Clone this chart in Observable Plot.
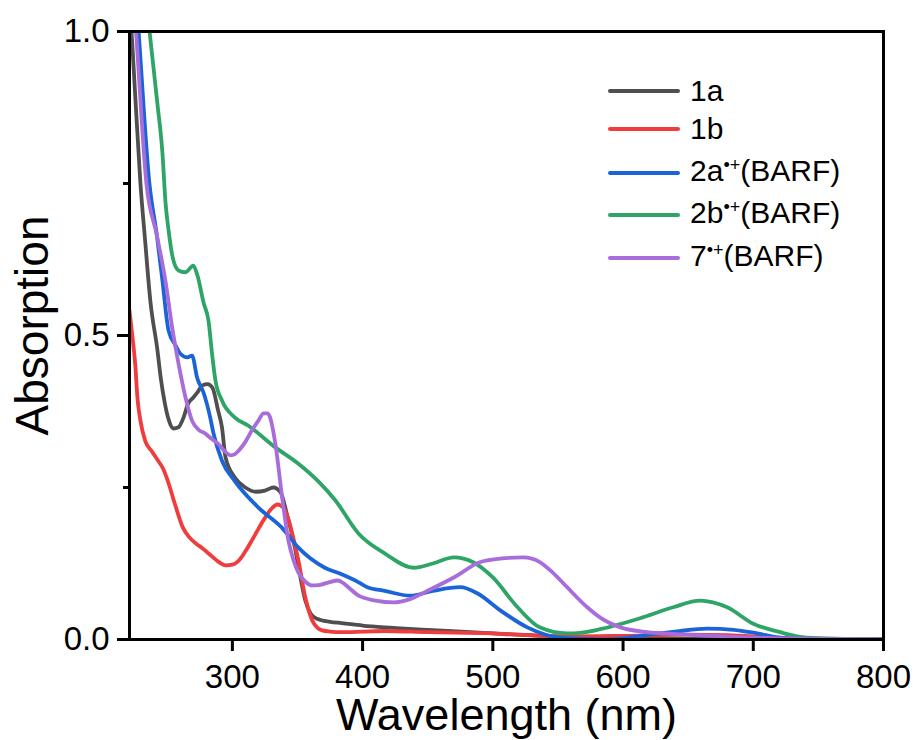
<!DOCTYPE html>
<html>
<head>
<meta charset="utf-8">
<script src="https://cdn.jsdelivr.net/npm/d3@7"></script>
<script src="https://cdn.jsdelivr.net/npm/@observablehq/plot@0.6"></script>
<style>
  body { margin: 0; background: #fff; }
  #wrap { position: relative; width: 914px; height: 740px; font-family: "Liberation Sans", Arial, sans-serif; }
  .row { position: absolute; display: flex; align-items: center; height: 30px; font-size: 30px; line-height: 30px; color: #000; white-space: nowrap; }
  .swatch { width: 72px; height: 4px; border-radius: 2px; margin-right: 10px; }
  .sup { font-size: 18px; position: relative; top: -10px; }
</style>
</head>
<body>
<div id="wrap"></div>
<script>
// ---- data ----
const seriesNames = ["1a", "1b", "2a", "2b", "7"];
const seriesColors = ["#4f4f4f", "#f03c3c", "#1a64d8", "#2ea566", "#a86ddb"];

const wl1a = [221, 222.5, 225.6, 229.4, 233, 237, 242.5, 245, 248, 251, 254.8, 258.6, 262.5, 266, 270, 273, 277, 281, 284.7, 289, 292, 294.7, 302, 310, 318, 325, 331.5, 337, 342, 348, 352, 356, 360, 365, 375, 384, 400, 417, 450, 500, 550, 600, 650, 700, 800];
const abs1a = [1.04, 1.0, 0.887, 0.75, 0.656, 0.557, 0.475, 0.43, 0.39, 0.362, 0.347, 0.349, 0.365, 0.388, 0.398, 0.406, 0.418, 0.42, 0.414, 0.377, 0.349, 0.30, 0.266, 0.25, 0.243, 0.245, 0.25, 0.242, 0.205, 0.151, 0.105, 0.064, 0.043, 0.034, 0.029, 0.027, 0.023, 0.02, 0.016, 0.01, 0.005, 0.003, 0.001, 0.0, 0.0];

const wl1b = [221, 223, 225.6, 227, 229.4, 233, 238, 243, 247, 251, 256, 262, 267, 272, 277, 282, 288, 295, 300, 305, 310, 315, 320, 325, 330, 334.6, 339, 343, 346, 350.7, 356, 359, 361.4, 365, 369, 375, 384, 417, 450, 500, 529, 560, 600, 650, 680, 710, 740, 800];
const abs1b = [0.541, 0.503, 0.447, 0.40, 0.36, 0.327, 0.31, 0.294, 0.28, 0.257, 0.222, 0.184, 0.168, 0.158, 0.15, 0.141, 0.13, 0.122, 0.123, 0.13, 0.145, 0.163, 0.182, 0.20, 0.215, 0.222, 0.217, 0.198, 0.174, 0.13, 0.069, 0.045, 0.031, 0.02, 0.015, 0.013, 0.012, 0.014, 0.012, 0.01, 0.007, 0.005, 0.006, 0.008, 0.007, 0.004, 0.001, 0.0];

const wl2a = [225, 228, 236.3, 242, 246.3, 251, 256.3, 260, 265.5, 269, 273, 278, 283, 285.5, 292, 302, 320, 338, 350.7, 371, 383, 397, 403.6, 417, 436.6, 454, 475, 488, 505.7, 526.5, 552, 582, 600, 613, 640, 664.6, 685, 703, 720.6, 740, 800];
const abs2a = [1.09, 1.0, 0.75, 0.665, 0.59, 0.508, 0.484, 0.47, 0.464, 0.467, 0.43, 0.405, 0.365, 0.339, 0.294, 0.26, 0.217, 0.184, 0.151, 0.118, 0.108, 0.094, 0.086, 0.08, 0.072, 0.08, 0.086, 0.076, 0.048, 0.02, 0.003, 0.0, 0.002, 0.006, 0.013, 0.018, 0.016, 0.01, 0.003, 0.001, 0.0];

const wl2b = [234, 236.4, 242.5, 246.3, 248.6, 251, 254, 258.6, 264, 270, 273, 278, 281.6, 284.7, 287, 292, 302, 312, 333, 350.7, 366, 379, 397, 417.5, 439, 454, 470, 485, 500, 519, 536, 557, 567, 582.5, 613, 638.5, 659, 680, 700, 720.6, 741, 770, 800];
const abs2b = [1.05, 1.0, 0.88, 0.80, 0.72, 0.673, 0.63, 0.607, 0.604, 0.615, 0.60, 0.553, 0.525, 0.464, 0.426, 0.393, 0.365, 0.352, 0.316, 0.289, 0.26, 0.229, 0.174, 0.141, 0.118, 0.125, 0.135, 0.127, 0.102, 0.053, 0.02, 0.01, 0.011, 0.017, 0.035, 0.053, 0.064, 0.053, 0.026, 0.012, 0.003, 0.001, 0.0];

const wl7 = [224, 226, 234, 242, 248.6, 254, 258.6, 264, 269, 274, 279, 284, 289, 294, 298.5, 302, 305, 310, 315, 320, 324, 327, 329, 333, 338.5, 343, 347, 350.7, 356, 361, 367.6, 374, 381, 385, 389, 397, 410, 423.6, 436, 449.7, 470, 490, 505.7, 523, 530, 536.4, 546, 557, 572.5, 582.5, 598, 618.5, 640, 659, 690, 720, 750, 800];
const abs7 = [1.06, 1.0, 0.75, 0.665, 0.59, 0.51, 0.454, 0.398, 0.36, 0.345, 0.339, 0.33, 0.322, 0.31, 0.303, 0.305, 0.311, 0.325, 0.344, 0.36, 0.372, 0.372, 0.365, 0.322, 0.229, 0.163, 0.13, 0.11, 0.095, 0.089, 0.09, 0.094, 0.097, 0.093, 0.086, 0.072, 0.064, 0.061, 0.066, 0.08, 0.102, 0.127, 0.133, 0.135, 0.133, 0.127, 0.11, 0.086, 0.053, 0.036, 0.02, 0.012, 0.009, 0.007, 0.004, 0.002, 0.001, 0.0];

const xTicks = [300, 400, 500, 600, 700, 800];
const yTicks = [0, 0.5, 1.0];
const yMinorTicks = [0.25, 0.75];
const xLabel = "Wavelength (nm)";
const yLabel = "Absorption";

const legendBase = ["1a", "1b", "2a", "2b", "7"];
const legendSup = ["", "", "•+", "•+", "•+"];
const legendSuffix = ["", "", "(BARF)", "(BARF)", "(BARF)"];

// ---- build table ----
const wls = [wl1a, wl1b, wl2a, wl2b, wl7];
const absv = [abs1a, abs1b, abs2a, abs2b, abs7];
const data = seriesNames.flatMap((name, i) =>
  wls[i].map((w, j) => ({series: name, wl: w, a: absv[i][j]}))
);

const plot = Plot.plot({
  width: 914,
  height: 740,
  marginTop: 31,
  marginBottom: 101,
  marginLeft: 129,
  marginRight: 31,
  x: {domain: [221, 800]},
  y: {domain: [0, 1]},
  color: {domain: seriesNames, range: seriesColors},
  style: {fontFamily: "'Liberation Sans', Arial, sans-serif", fontSize: "33px", color: "black", background: "white"},
  marks: [
    Plot.line(data, {x: "wl", y: "a", z: "series", stroke: "series", strokeWidth: 3.8, curve: "monotone-x", clip: true}),
    Plot.frame({stroke: "black", strokeWidth: 3}),
    Plot.axisX({ticks: xTicks, tickSize: 12, tickPadding: 13, tickFormat: d3.format("d"), fontSize: 33, label: null, strokeWidth: 3}),
    Plot.axisY({ticks: yTicks, tickSize: 12, tickPadding: 8, tickFormat: d3.format(".1f"), fontSize: 33, label: null, strokeWidth: 3}),
    Plot.axisY({ticks: yMinorTicks, tickSize: 6, tickFormat: () => "", label: null, strokeWidth: 3}),
    Plot.text([xLabel], {text: d => d, frameAnchor: "bottom", textAnchor: "middle", lineAnchor: "top", dy: 59, fontSize: 45}),
    Plot.text([yLabel], {text: d => d, frameAnchor: "left", textAnchor: "middle", rotate: -90, lineAnchor: "top", dx: -114, dy: -10, fontSize: 46})
  ]
});

// make sure tick labels use the intended size
d3.select(plot)
  .selectAll('g[aria-label="x-axis tick label"], g[aria-label="y-axis tick label"]')
  .style("font-size", "33px");

const wrap = document.getElementById("wrap");
wrap.appendChild(plot);

// ---- legend overlay ----
const rowCenters = [91, 129, 173, 215, 258];
seriesNames.forEach((name, i) => {
  const row = document.createElement("div");
  row.className = "row";
  row.style.left = "608px";
  row.style.top = (rowCenters[i] - 15) + "px";
  const sw = document.createElement("div");
  sw.className = "swatch";
  sw.style.background = seriesColors[i];
  row.appendChild(sw);
  const t = document.createElement("span");
  t.appendChild(document.createTextNode(legendBase[i]));
  if (legendSup[i]) {
    const s = document.createElement("span");
    s.className = "sup";
    s.textContent = legendSup[i];
    t.appendChild(s);
  }
  t.appendChild(document.createTextNode(legendSuffix[i]));
  row.appendChild(t);
  wrap.appendChild(row);
});
</script>
</body>
</html>
